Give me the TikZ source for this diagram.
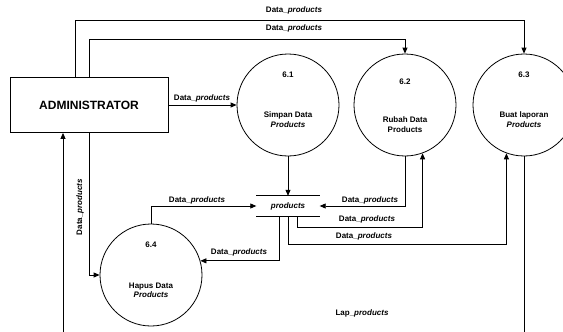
\documentclass[tikz,border=0pt]{standalone}
\usepackage{fontspec}
\setmainfont{Liberation Sans}
\usetikzlibrary{arrows.meta}

\begin{document}
\begin{tikzpicture}[x=1pt, y=-1pt,
        proc/.style={draw, circle, line width=0.8pt, minimum size=102pt, inner sep=0pt},
        entity/.style={draw, rectangle, line width=0.8pt, minimum width=158pt, minimum height=55pt, font=\fontsize{12}{14}\selectfont\bfseries},
        flow/.style={line width=0.8pt, -{Triangle[length=6pt, width=5pt]}},
        lbl/.style={font=\fontsize{8}{9.3}\selectfont\bfseries, inner sep=0pt},
        ptext/.style={lbl, align=center}]
        \useasboundingbox (0,0) rectangle (563,332);
        \clip (0,0) rectangle (563,332);

        \node[entity] (admin) at (89,105) {ADMINISTRATOR};

        \node[proc] (p1) at (288,105) {};
        \node[proc] (p2) at (405,105) {};
        \node[proc] (p3) at (524,105) {};
        \node[proc] (p4) at (151,275) {};

        \node[lbl] (n1) at ([yshift=30pt]p1) {6.1};
        \node[ptext] (t1) at ([yshift=-14.5pt]p1) {Simpan Data\\\textit{Products}};
        \node[lbl] (n2) at ([yshift=23pt]p2) {6.2};
        \node[ptext] (t2) at ([yshift=-19.5pt]p2) {Rubah Data\\Products};
        \node[lbl] (n3) at ([yshift=30pt]p3) {6.3};
        \node[ptext] (t3) at ([yshift=-14.5pt]p3) {Buat laporan\\\textit{Products}};
        \node[lbl] (n4) at ([yshift=30pt]p4) {6.4};
        \node[ptext] (t4) at ([yshift=-15pt]p4) {Hapus Data\\\textit{Products}};

        % data store
        \node[lbl, minimum width=63pt, minimum height=20pt] (store) at (288,206) {\textit{products}};
        \draw[line width=0.8pt] (store.north west) -- (store.north east) (store.south west) -- (store.south east);

        \draw[flow] ([xshift=-14pt]admin.north) -- ++(0,-57) -| (p3.north);
        \draw[flow] (admin.north) -- ++(0,-38) -| (p2.north);
        \draw[flow] (admin.east) -- (p1.west);
        \draw[flow] (admin.south) |- (p4.west);
        \draw[flow] (p1.south) -- (store.north);
        \draw[flow] (p4.north) |- (store.west);
        \draw[flow] (p2.south) |- (store.east);
        \draw[flow] ([xshift=9pt]store.south) -- ++(0,11) -| (p2.-70);
        \draw[flow] (store.south) -- ++(0,28) -| (p3.-110);
        \draw[flow] ([xshift=-9pt]store.south) |- (p4.16);
        \draw[flow] (p3.south) -- ++(0,190) -| ([xshift=-26pt]admin.south);

        \node[lbl] (l1) at (294,10.7) {Data\_\textit{products}};
        \node[lbl] (l2) at (294,28.3) {Data\_\textit{products}};
        \node[lbl] (l3) at (202,98) {Data\_\textit{products}};
        \node[lbl, rotate=90] (l4) at (80,207) {Data\_\textit{products}};
        \node[lbl] (l5) at (197,200) {Data\_\textit{products}};
        \node[lbl] (l6) at (370,200.7) {Data\_\textit{products}};
        \node[lbl] (l7) at (367,219) {Data\_\textit{products}};
        \node[lbl] (l8) at (364,236) {Data\_\textit{products}};
        \node[lbl] (l9) at (239,252.3) {Data\_\textit{products}};
        \node[lbl] (l10) at (362,313) {Lap\_\textit{products}};
\end{tikzpicture}
\end{document}
